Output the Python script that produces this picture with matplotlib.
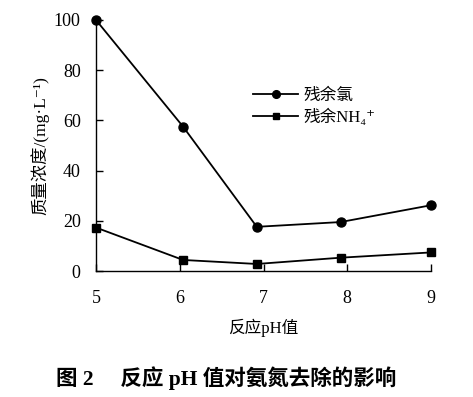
import matplotlib
matplotlib.use("Agg")
import matplotlib.pyplot as plt

ph_cl = [5.0, 6.04, 6.92, 7.92, 9.0]
cl_values = [100, 57.5, 17.6, 19.5, 26.2]
ph_nh = [5.0, 6.04, 6.92, 7.92, 9.0]
nh_values = [17.3, 4.4, 2.8, 5.3, 7.4]
xticks = [5, 6, 7, 8, 9]
yticks = [0, 20, 40, 60, 80, 100]
series_labels = ["残余氯", "残余NH\u2084\u207a"]
xlabel = "反应pH值"
ylabel = "质量浓度/(mg·L\u207b\u00b9)"
caption = "图 2\u2003 反应 pH 值对氨氮去除的影响"

fam = ["Liberation Serif", "Noto Sans CJK SC", "DejaVu Serif"]
plt.rcParams['font.family'] = fam

fig = plt.figure(figsize=(4.73, 3.97), dpi=100)
ax = fig.add_axes([96/473, 1-271/397, (431-96)/473, (271-20)/397])

ax.plot(ph_cl, cl_values, color="black", lw=1.3, marker="o", ms=6.5,
        label=series_labels[0], clip_on=False, zorder=3)
ax.plot(ph_nh, nh_values, color="black", lw=1.3, marker="s", ms=5.5,
        label=series_labels[1], clip_on=False, zorder=3)

ax.set_xlim(5, 9)
ax.set_ylim(0, 100)
ax.set_xticks(xticks)
ax.set_yticks(yticks)
ax.spines['top'].set_visible(False)
ax.spines['right'].set_visible(False)
for s in ['left', 'bottom']:
    ax.spines[s].set_linewidth(1.0)
ax.tick_params(direction='in', length=5, width=1.0, labelsize=13)
ax.tick_params(axis='x', pad=14)
ax.tick_params(axis='y', pad=11)

ax.set_xlabel(xlabel, fontsize=12, labelpad=8)
ax.set_ylabel(ylabel, fontsize=12.5, labelpad=3)

ax.legend(loc='upper left', bbox_to_anchor=(0.45, 0.755), frameon=False,
          fontsize=12, handlelength=2.7, handletextpad=0.3, labelspacing=0.25,
          borderaxespad=0, markerscale=0.85)

fig.text(226/473, 1-378/397, caption, ha='center', va='center', fontsize=15.5,
         fontweight='bold')

fig.savefig("out.png", dpi=100)
